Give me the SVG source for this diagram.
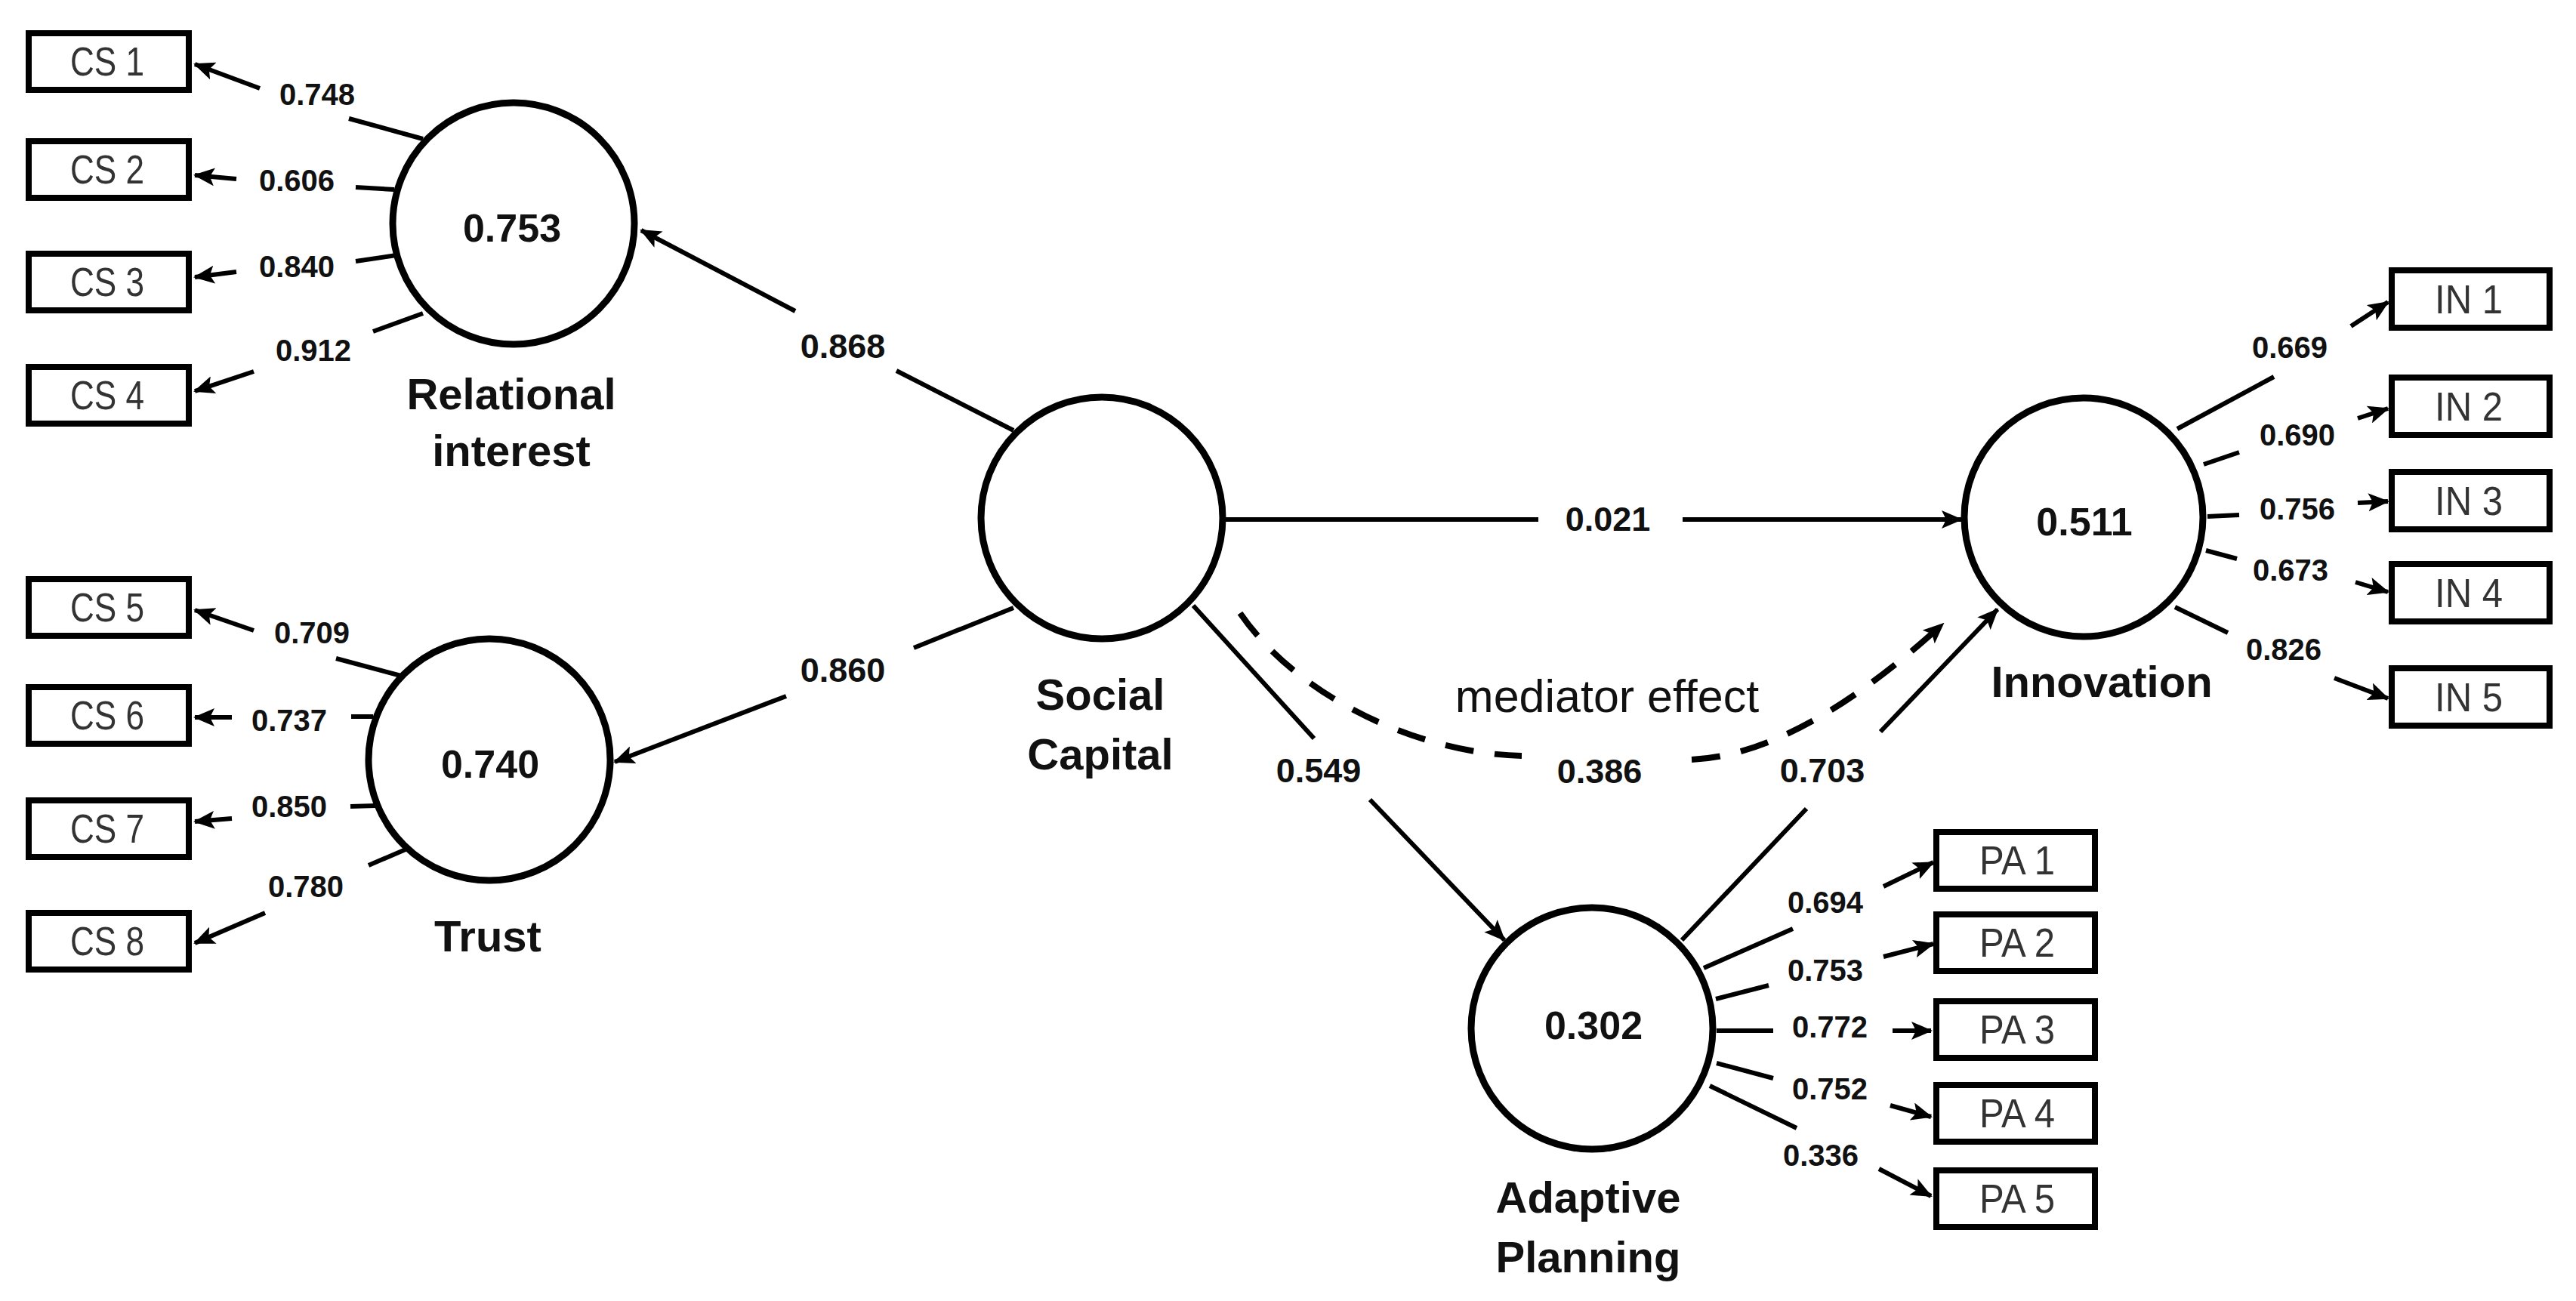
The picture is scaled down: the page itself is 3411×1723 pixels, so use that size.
<svg xmlns="http://www.w3.org/2000/svg" width="3411" height="1723" viewBox="0 0 3411 1723">
<style>
.lat{fill:#fff;stroke:#000;stroke-width:9}
.ind{fill:#fff;stroke:#000;stroke-width:8}
.itx{font-family:"Liberation Sans",Arial,sans-serif;font-size:53px;fill:#333;text-anchor:middle}
.val{font-family:"Liberation Sans",Arial,sans-serif;font-size:52px;font-weight:bold;fill:#111;text-anchor:middle}
.nm{font-family:"Liberation Sans",Arial,sans-serif;font-size:58px;font-weight:bold;fill:#111;text-anchor:middle}
.ld{font-family:"Liberation Sans",Arial,sans-serif;font-size:40px;font-weight:bold;fill:#111;text-anchor:middle}
.pl{font-family:"Liberation Sans",Arial,sans-serif;font-size:45px;font-weight:bold;fill:#111;text-anchor:middle}
.med{font-family:"Liberation Sans",Arial,sans-serif;font-size:61px;fill:#111;text-anchor:middle}
.c{fill:none;stroke:#000;stroke-width:6;marker-end:url(#ah)}
.d{fill:none;stroke:#000;stroke-width:8;stroke-dasharray:38 28;marker-end:url(#ah)}
</style>
<defs>
<marker id="ah" markerUnits="userSpaceOnUse" markerWidth="28" markerHeight="24" refX="26" refY="12" orient="auto">
<path d="M0,0 L28,12 L0,24 L6,12 z" fill="#000"/>
</marker>
</defs>
<rect width="3411" height="1723" fill="#fff"/>

<g id="connectors">
<!-- structural paths -->
<path class="c" d="M1342,570 L1187,491 M1053,412 L849,305"/>
<text class="pl" x="1116" y="474">0.868</text>
<path class="c" d="M1342,805 L1210,858 M1041,922 L814,1009"/>
<text class="pl" x="1116" y="903">0.860</text>
<path class="c" d="M1621,688 L2037,688 M2228,688 L2597,688"/>
<text class="pl" x="2129" y="703">0.021</text>
<path class="c" d="M1580,802 L1740,978 M1814,1059 L1992,1245"/>
<text class="pl" x="1746" y="1036">0.549</text>
<path class="c" d="M2227,1245 L2392,1071 M2490,969 L2645,807"/>
<text class="pl" x="2413" y="1036">0.703</text>
<path class="d" d="M1642,812 C1720,925 1880,998 2015,1001 M2240,1006 C2360,1000 2480,910 2573,826"/>
<text class="pl" x="2118" y="1037">0.386</text>
<text class="med" x="2128" y="943">mediator effect</text>

<!-- Relational interest loadings -->
<path class="c" d="M560,184 L462,157 M344,117 L258,85"/>
<text class="ld" x="420" y="139">0.748</text>
<path class="c" d="M522,251 L471,248 M313,237 L258,232"/>
<text class="ld" x="393" y="253">0.606</text>
<path class="c" d="M525,338 L471,346 M313,360 L258,367"/>
<text class="ld" x="393" y="367">0.840</text>
<path class="c" d="M560,415 L494,439 M336,492 L258,518"/>
<text class="ld" x="415" y="478">0.912</text>

<!-- Trust loadings -->
<path class="c" d="M531,895 L445,872 M336,835 L258,808"/>
<text class="ld" x="413" y="852">0.709</text>
<path class="c" d="M494,949 L465,949 M307,950 L258,950"/>
<text class="ld" x="383" y="968">0.737</text>
<path class="c" d="M497,1067 L464,1068 M307,1084 L258,1088"/>
<text class="ld" x="383" y="1082">0.850</text>
<path class="c" d="M537,1125 L488,1146 M351,1209 L258,1249"/>
<text class="ld" x="405" y="1188">0.780</text>

<!-- Innovation loadings -->
<path class="c" d="M2883,568 L3011,499 M3113,432 L3162,400"/>
<text class="ld" x="3032" y="474">0.669</text>
<path class="c" d="M2918,615 L2965,599 M3122,554 L3162,541"/>
<text class="ld" x="3042" y="590">0.690</text>
<path class="c" d="M2923,684 L2965,682 M3122,666 L3162,664"/>
<text class="ld" x="3042" y="688">0.756</text>
<path class="c" d="M2921,729 L2962,740 M3119,771 L3162,784"/>
<text class="ld" x="3033" y="769">0.673</text>
<path class="c" d="M2880,804 L2950,838 M3091,898 L3162,925"/>
<text class="ld" x="3024" y="874">0.826</text>

<!-- Adaptive planning loadings -->
<path class="c" d="M2256,1282 L2374,1230 M2494,1174 L2560,1142"/>
<text class="ld" x="2417" y="1209">0.694</text>
<path class="c" d="M2272,1323 L2342,1305 M2494,1267 L2560,1250"/>
<text class="ld" x="2417" y="1299">0.753</text>
<path class="c" d="M2273,1365 L2348,1365 M2506,1365 L2557,1365"/>
<text class="ld" x="2423" y="1374">0.772</text>
<path class="c" d="M2273,1408 L2348,1428 M2503,1464 L2557,1479"/>
<text class="ld" x="2423" y="1456">0.752</text>
<path class="c" d="M2264,1438 L2379,1494 M2488,1548 L2557,1584"/>
<text class="ld" x="2411" y="1544">0.336</text>
</g>

<g id="relational-interest">
<circle class="lat" cx="680" cy="296" r="160"/>
<text class="val" x="678" y="320">0.753</text>
<text class="nm" x="677" y="542">Relational</text>
<text class="nm" x="677" y="617">interest</text>
</g>
<g id="trust">
<circle class="lat" cx="648" cy="1006" r="160"/>
<text class="val" x="649" y="1030">0.740</text>
<text class="nm" x="646" y="1260">Trust</text>
</g>
<g id="social-capital">
<circle class="lat" cx="1459" cy="686" r="160"/>
<text class="nm" x="1457" y="940">Social</text>
<text class="nm" x="1457" y="1019">Capital</text>
</g>
<g id="innovation">
<circle class="lat" cx="2759" cy="685" r="158"/>
<text class="val" x="2760" y="709">0.511</text>
<text class="nm" x="2783" y="923">Innovation</text>
</g>
<g id="adaptive-planning">
<circle class="lat" cx="2108" cy="1362" r="160"/>
<text class="val" x="2110" y="1376">0.302</text>
<text class="nm" x="2103" y="1606">Adaptive</text>
<text class="nm" x="2103" y="1685">Planning</text>
</g>

<g id="CS1"><rect class="ind" x="38" y="44" width="212" height="75"/><text class="itx" x="142" y="100" textLength="98" lengthAdjust="spacingAndGlyphs">CS 1</text></g>
<g id="CS2"><rect class="ind" x="38" y="187" width="212" height="75"/><text class="itx" x="142" y="243" textLength="98" lengthAdjust="spacingAndGlyphs">CS 2</text></g>
<g id="CS3"><rect class="ind" x="38" y="336" width="212" height="75"/><text class="itx" x="142" y="392" textLength="98" lengthAdjust="spacingAndGlyphs">CS 3</text></g>
<g id="CS4"><rect class="ind" x="38" y="486" width="212" height="75"/><text class="itx" x="142" y="542" textLength="98" lengthAdjust="spacingAndGlyphs">CS 4</text></g>
<g id="CS5"><rect class="ind" x="38" y="767" width="212" height="75"/><text class="itx" x="142" y="823" textLength="98" lengthAdjust="spacingAndGlyphs">CS 5</text></g>
<g id="CS6"><rect class="ind" x="38" y="910" width="212" height="75"/><text class="itx" x="142" y="966" textLength="98" lengthAdjust="spacingAndGlyphs">CS 6</text></g>
<g id="CS7"><rect class="ind" x="38" y="1060" width="212" height="75"/><text class="itx" x="142" y="1116" textLength="98" lengthAdjust="spacingAndGlyphs">CS 7</text></g>
<g id="CS8"><rect class="ind" x="38" y="1209" width="212" height="75"/><text class="itx" x="142" y="1265" textLength="98" lengthAdjust="spacingAndGlyphs">CS 8</text></g>

<g id="IN1"><rect class="ind" x="3167" y="358" width="209" height="76"/><text class="itx" x="3269" y="415" textLength="90" lengthAdjust="spacingAndGlyphs">IN 1</text></g>
<g id="IN2"><rect class="ind" x="3167" y="500" width="209" height="76"/><text class="itx" x="3269" y="557" textLength="90" lengthAdjust="spacingAndGlyphs">IN 2</text></g>
<g id="IN3"><rect class="ind" x="3167" y="625" width="209" height="76"/><text class="itx" x="3269" y="682" textLength="90" lengthAdjust="spacingAndGlyphs">IN 3</text></g>
<g id="IN4"><rect class="ind" x="3167" y="747" width="209" height="76"/><text class="itx" x="3269" y="804" textLength="90" lengthAdjust="spacingAndGlyphs">IN 4</text></g>
<g id="IN5"><rect class="ind" x="3167" y="885" width="209" height="76"/><text class="itx" x="3269" y="942" textLength="90" lengthAdjust="spacingAndGlyphs">IN 5</text></g>

<g id="PA1"><rect class="ind" x="2564" y="1102" width="210" height="75"/><text class="itx" x="2671" y="1158" textLength="100" lengthAdjust="spacingAndGlyphs">PA 1</text></g>
<g id="PA2"><rect class="ind" x="2564" y="1211" width="210" height="75"/><text class="itx" x="2671" y="1267" textLength="100" lengthAdjust="spacingAndGlyphs">PA 2</text></g>
<g id="PA3"><rect class="ind" x="2564" y="1326" width="210" height="75"/><text class="itx" x="2671" y="1382" textLength="100" lengthAdjust="spacingAndGlyphs">PA 3</text></g>
<g id="PA4"><rect class="ind" x="2564" y="1437" width="210" height="75"/><text class="itx" x="2671" y="1493" textLength="100" lengthAdjust="spacingAndGlyphs">PA 4</text></g>
<g id="PA5"><rect class="ind" x="2564" y="1550" width="210" height="75"/><text class="itx" x="2671" y="1606" textLength="100" lengthAdjust="spacingAndGlyphs">PA 5</text></g>
</svg>
